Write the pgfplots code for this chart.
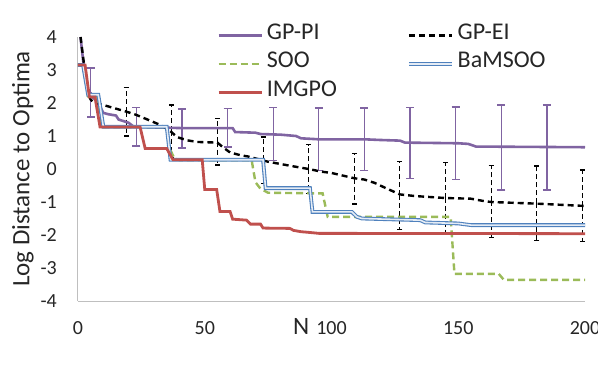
\documentclass[border=0pt]{standalone}
\usepackage{pgfplots}
\pgfplotsset{compat=1.18}
\usepackage{fontspec}
\setmainfont{Carlito}
\definecolor{pipurple}{HTML}{8064A2}
\definecolor{soogreen}{HTML}{9BBB59}
\definecolor{bamblue}{HTML}{4F81BD}
\definecolor{imred}{HTML}{C0504D}
\definecolor{axgray}{HTML}{BFBFBF}
\definecolor{txt}{HTML}{262626}
\begin{document}
\begin{tikzpicture}
\begin{axis}[
  scale only axis, width=507bp, height=264bp,
  xmin=0, xmax=200, ymin=-4, ymax=4,
  clip=false,
  axis x line*=bottom, axis y line*=left,
  axis line style={draw=axgray, line width=1bp, -},
  xtick={0,50,100,150,200}, xticklabels={0,50,100,150,200},
  ytick={-4,-3,-2,-1,0,1,2,3,4}, yticklabels={-4,-3,-2,-1,0,1,2,3,4},
  major tick length=0pt,
  tick label style={font=\fontsize{20bp}{24bp}\selectfont, text=txt, inner sep=0pt},
  xticklabel style={anchor=base, yshift=-33bp},
  yticklabel style={anchor=east, xshift=-21bp},
  xlabel={N},
  xlabel style={at={(axis description cs:0.44,0)}, anchor=base, yshift=-33bp, font=\fontsize{25bp}{30bp}\selectfont, text=txt, inner sep=0pt},
  ylabel={Log Distance to Optima},
  ylabel style={at={(axis description cs:0,0.5)}, anchor=center, yshift=55bp, font=\fontsize{25bp}{30bp}\selectfont, text=txt, inner sep=0pt},
  legend columns=2,
  legend cell align=left,
  legend style={at={(rel axis cs:0.274,1.06)}, anchor=north west, draw=none, fill=none,
    font=\fontsize{24bp}{28bp}\selectfont, text=txt, inner sep=0pt, row sep=0pt,
    nodes={inner sep=0pt, text height=18bp, text depth=10.5bp},
    /tikz/every even column/.append style={column sep=70bp},
    /tikz/every odd column/.append style={column sep=4bp}},
  legend image code/.code={\draw[#1] (0bp,0bp) -- (43bp,0bp);},
]
% error bars GP-PI
\addplot[draw=none, forget plot,
  error bars/.cd, y dir=both, y explicit,
  error bar style={draw=pipurple, line width=1.3bp, solid},
  error mark options={draw=pipurple, line width=1.3bp, mark size=4bp, solid, rotate=90}]
  table[x=x, y=y, y error=e] {
x y e
5 2.32 0.74
23 1.275 0.58
41 1.23 0.59
59 1.245 0.58
77 1.065 0.80
95 0.9 0.95
113 0.9 0.95
131 0.785 1.08
149 0.775 1.10
167 0.65 1.29
185 0.65 1.29
};
% error bars GP-EI
\addplot[draw=none, forget plot,
  error bars/.cd, y dir=both, y explicit,
  error bar style={draw=black, line width=1.1bp, dash pattern=on 5bp off 3bp},
  error mark options={draw=black, line width=1.1bp, mark size=2.5bp, solid, rotate=90}]
  table[x=x, y=y, y error=e] {
x y e
19 1.74 0.74
37 1.15 0.79
55 0.83 0.71
73 0.27 0.70
91 0.0 0.73
109 -0.29 0.77
127 -0.79 1.03
145 -0.87 1.07
163 -0.98 1.09
181 -1.04 1.13
199 -1.12 1.09
};
% GP-PI
\addplot[pipurple, line width=2.6bp, mark=none] coordinates {
(1,4.0) (2,3.3) (3,2.7) (4,2.35) (5,2.3) (6,2.15) (7,2.1) (9,1.85) (10,1.7) (12,1.66) (15,1.62) (16,1.5) (18,1.45) (20,1.4) (22,1.28) (30,1.26) (41,1.24) (61,1.24) (62,1.12) (70,1.10) (72,1.06) (80,1.04) (86,1.0) (88,0.93) (95,0.9) (113,0.9) (119,0.88) (127,0.86) (129,0.8) (150,0.78) (154,0.76) (157,0.68) (200,0.66)
};
\addlegendentry{GP-PI}
% GP-EI
\addplot[black, line width=2.4bp, dash pattern=on 6bp off 4bp, mark=none] coordinates {
(1,4.0) (2,3.4) (3,2.8) (4,2.3) (5,2.1) (6,2.03) (8,1.97) (10,1.94) (14,1.85) (19,1.74) (23,1.64) (28,1.48) (32,1.35) (36,1.18) (39,0.97) (43,0.87) (47,0.82) (55,0.8) (57,0.67) (60,0.5) (64,0.42) (67,0.38) (71,0.3) (75,0.22) (80,0.15) (85,0.08) (91,0.0) (96,-0.08) (100,-0.12) (109,-0.28) (113,-0.32) (117,-0.42) (122,-0.6) (127,-0.77) (133,-0.82) (145,-0.88) (155,-0.9) (160,-0.97) (163,-1.0) (170,-1.02) (181,-1.05) (200,-1.12)
};
\addlegendentry{GP-EI}
% SOO
\addplot[soogreen, line width=2.4bp, dash pattern=on 7bp off 4bp, mark=none] coordinates {
(0,3.15) (2,3.15) (3,2.7) (4,2.2) (7,2.2) (8,1.75) (9,1.27) (35,1.27) (36,0.65) (38,0.32) (40,0.27) (68.5,0.27) (70,-0.4) (72,-0.6) (75,-0.72) (96.5,-0.74) (98.5,-1.45) (147,-1.45) (148.5,-3.18) (166,-3.18) (168,-3.36) (200,-3.36)
};
\addlegendentry{SOO}
% BaMSOO
\addplot[draw=bamblue, double=bamblue!15, double distance=1.6bp, line width=1.1bp, mark=none] coordinates {
(0,3.15) (2,3.15) (4,2.25) (8,2.25) (10,1.28) (35,1.28) (36.5,0.28) (73,0.28) (74,-0.58) (91.5,-0.58) (92.5,-1.3) (108,-1.3) (110,-1.45) (112,-1.5) (135,-1.55) (137,-1.62) (150,-1.65) (155,-1.7) (200,-1.7)
};
\addlegendentry{BaMSOO}
% IMGPO
\addplot[imred, line width=2.8bp, mark=none] coordinates {
(0,3.15) (2.8,3.15) (4.5,2.18) (6.7,2.18) (8.7,1.27) (24.5,1.27) (26.5,0.62) (35,0.62) (37.5,0.28) (49,0.28) (50,-0.62) (54.7,-0.62) (56,-1.29) (60,-1.29) (61,-1.52) (66.5,-1.55) (68,-1.67) (72,-1.67) (73,-1.79) (83.6,-1.8) (85,-1.86) (88,-1.9) (91,-1.92) (95,-1.95) (200,-1.96)
};
\addlegendentry{IMGPO}
\end{axis}
\pgfresetboundingbox
\path[use as bounding box] (-78bp,-83bp) rectangle (520bp,301bp);
\end{tikzpicture}
\end{document}
